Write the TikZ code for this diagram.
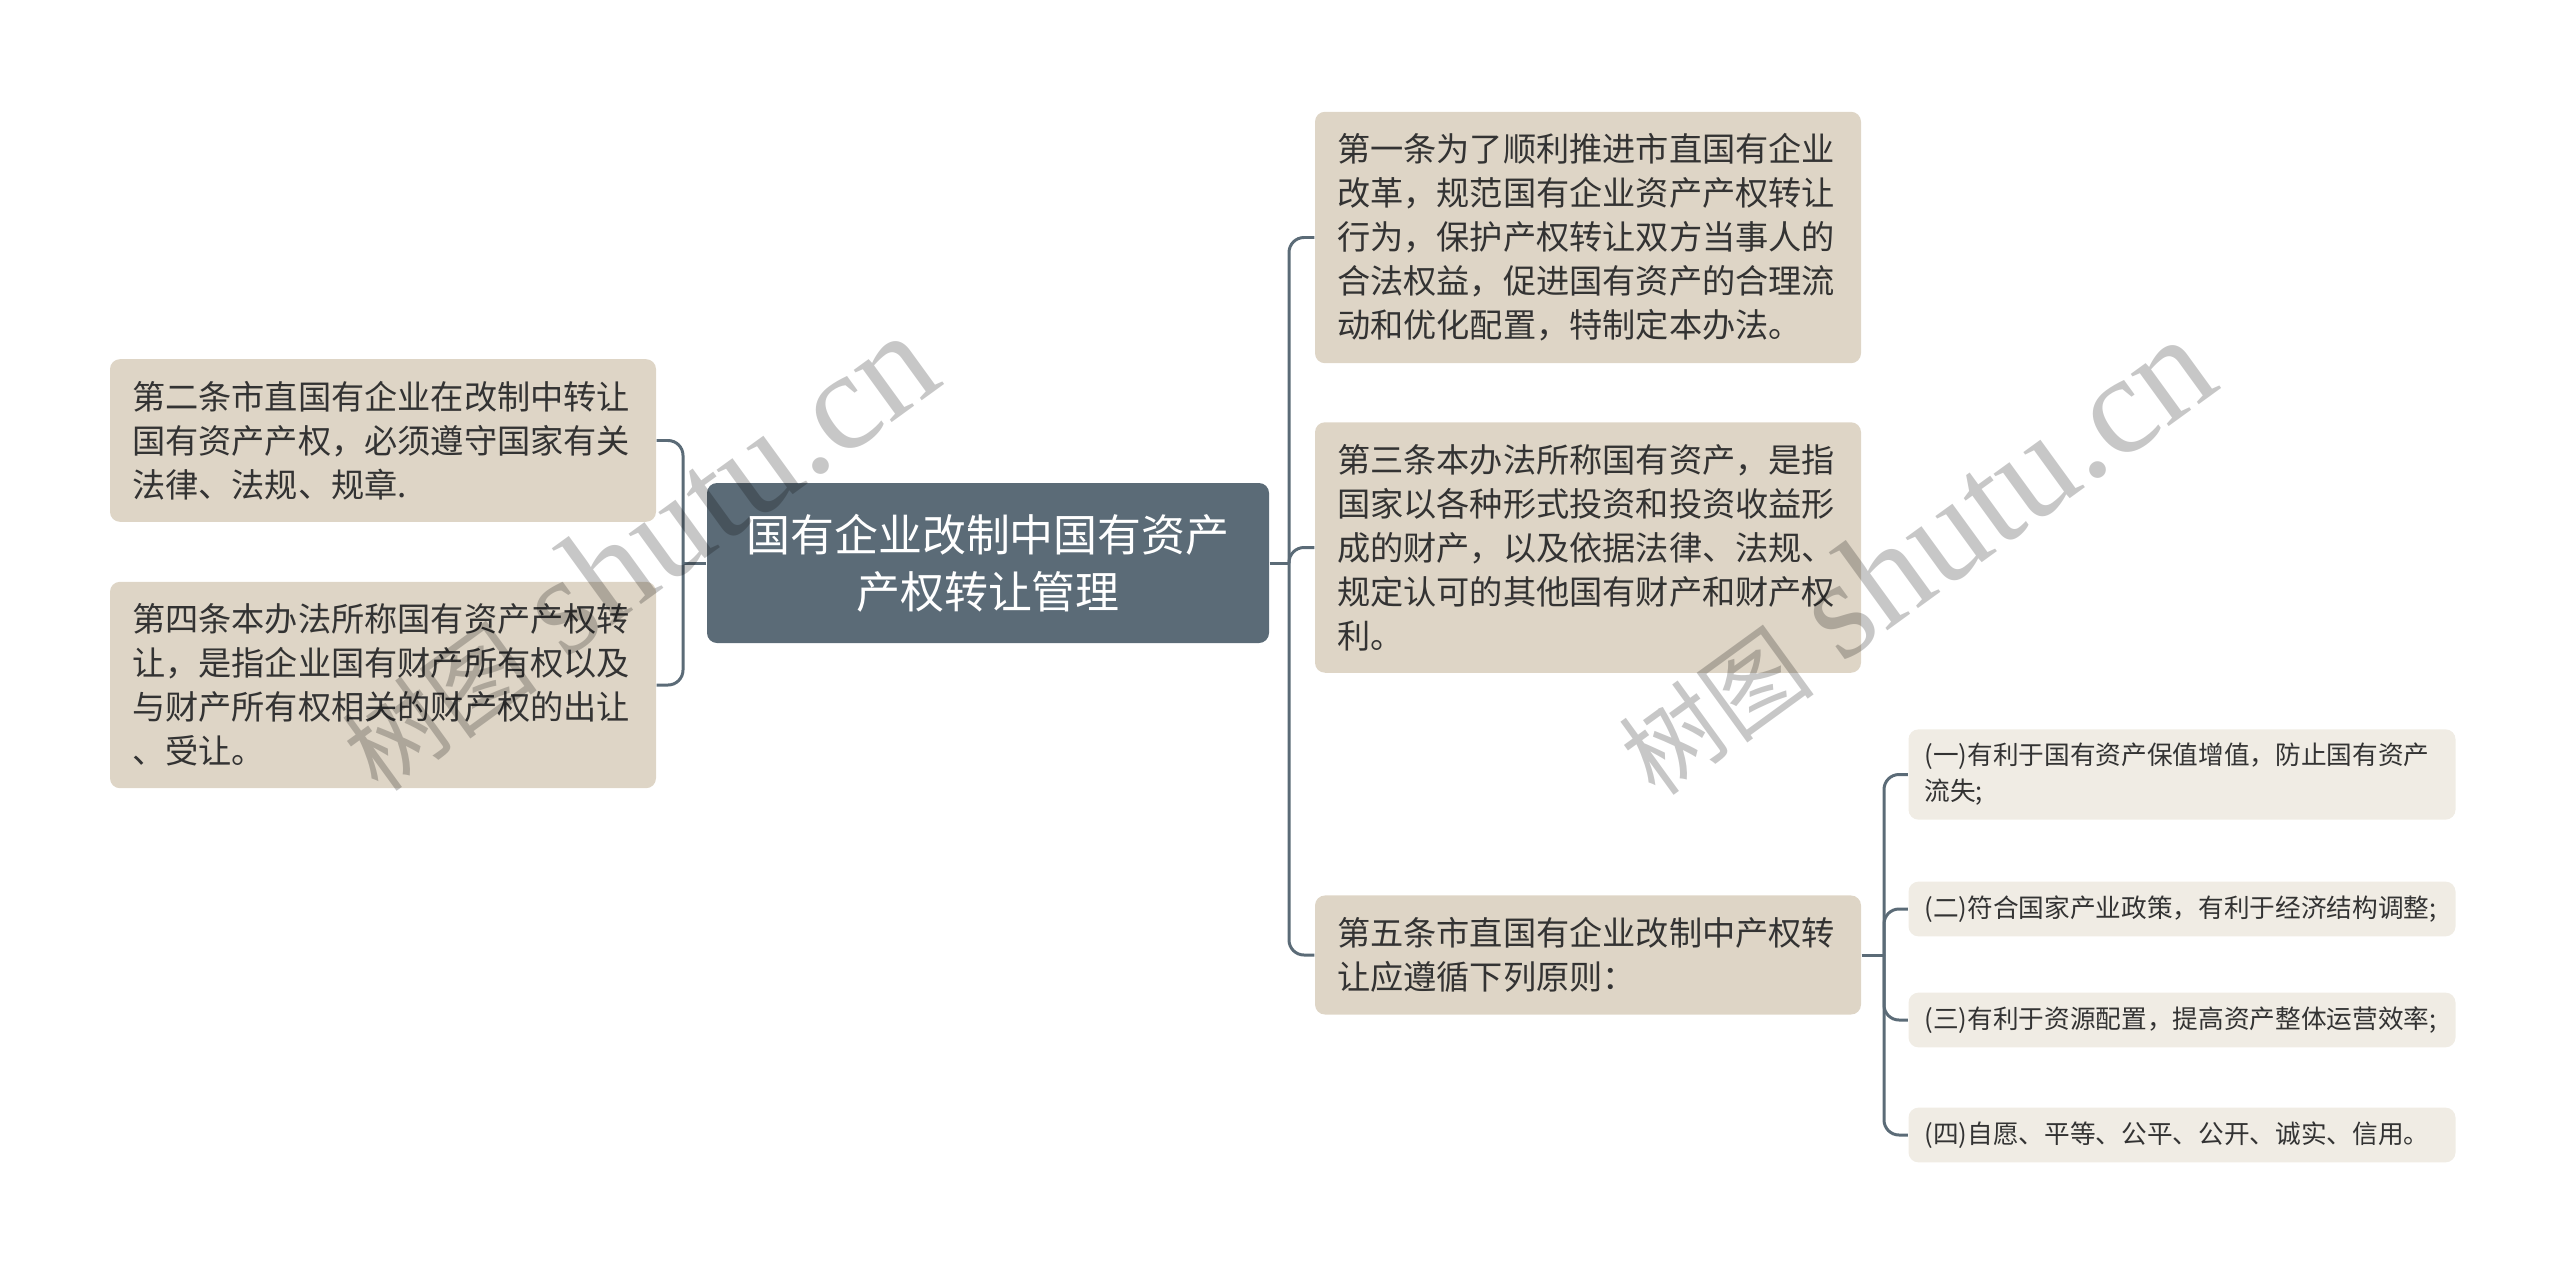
\documentclass[tikz,border=0pt]{standalone}
\usepackage{fontspec}
\setmainfont{Noto Sans CJK SC}
\newfontfamily\markfont{Liberation Serif}
\usepackage{tikz}

\definecolor{rootfill}{HTML}{5B6B77}
\definecolor{topicfill}{HTML}{DED5C6}
\definecolor{pointfill}{HTML}{F0ECE4}
\definecolor{textdark}{HTML}{333333}

\begin{document}
\begin{tikzpicture}[root/.style={rectangle,rounded corners=0.1cm,fill=rootfill,text=white,font=\fontsize{12.5pt}{16.2pt}\selectfont,align=center,minimum width=5.62cm,minimum height=1.6cm},
				topic/.style={rectangle,rounded corners=0.1cm,fill=topicfill,text=textdark,font=\fontsize{9.45pt}{12.5pt}\selectfont,align=left,text width=5.02cm,inner xsep=0.22cm,inner ysep=0.22cm},
				point/.style={rectangle,rounded corners=0.1cm,fill=pointfill,text=textdark,font=\fontsize{7.3pt}{10.2pt}\selectfont,align=left,text width=5.15cm,inner xsep=0.16cm,inner ysep=0.14cm},
				link/.style={draw=rootfill,line width=0.85pt,rounded corners=0.15cm},
				watermark/.style={text=black,text opacity=0.22,font=\fontsize{40pt}{40pt}\selectfont,rotate=36,anchor=base}]
	\useasboundingbox (0,0) rectangle (25.6,-12.73);
	\node[root] (R) at (9.88,-5.63) {国有企业改制中国有资产\\产权转让管理};
	\node[topic] (A2) at (3.83,-4.405) {第二条市直国有企业在改制中转让\\国有资产产权，必须遵守国家有关\\法律、法规、规章.};
	\node[topic] (A4) at (3.83,-6.85) {第四条本办法所称国有资产产权转\\让，是指企业国有财产所有权以及\\与财产所有权相关的财产权的出让\\、受让。};
	\node[topic] (A1) at (15.88,-2.375) {第一条为了顺利推进市直国有企业\\改革，规范国有企业资产产权转让\\行为，保护产权转让双方当事人的\\合法权益，促进国有资产的合理流\\动和优化配置，特制定本办法。};
	\node[topic] (A3) at (15.88,-5.475) {第三条本办法所称国有资产，是指\\国家以各种形式投资和投资收益形\\成的财产，以及依据法律、法规、\\规定认可的其他国有财产和财产权\\利。};
	\node[topic] (A5) at (15.88,-9.55) {第五条市直国有企业改制中产权转\\让应遵循下列原则：};
	\node[point] (P1) at (21.82,-7.745) {(一)有利于国有资产保值增值，防止国有资产\\流失;};
	\node[point] (P2) at (21.82,-9.09) {(二)符合国家产业政策，有利于经济结构调整;};
	\node[point] (P3) at (21.82,-10.2) {(三)有利于资源配置，提高资产整体运营效率;};
	\node[point] (P4) at (21.82,-11.35) {(四)自愿、平等、公平、公开、诚实、信用。};
	\coordinate (JL) at (6.83,-5.63);
	\coordinate (JR) at (12.89,-5.63);
	\coordinate (J5) at (18.84,-9.55);
	\draw[link] (R.west) -- (JL);
	\draw[link] (JL) |- (A2.east);
	\draw[link] (JL) |- (A4.east);
	\draw[link] (R.east) -- (JR);
	\draw[link] (JR) |- (A1.west);
	\draw[link] (JR) |- (A3.west);
	\draw[link] (JR) |- (A5.west);
	\draw[link] (A5.east) -- (J5);
	\draw[link] (J5) |- (P1.west);
	\draw[link] (J5) |- (P2.west);
	\draw[link] (J5) |- (P3.west);
	\draw[link] (J5) |- (P4.west);
	\node[watermark] (W1) at (6.63,-5.89) {{\fontsize{28pt}{28pt}\selectfont 树图} {\markfont shutu.cn}};
	\node[watermark] (W2) at (19.40,-5.93) {{\fontsize{28pt}{28pt}\selectfont 树图} {\markfont shutu.cn}};
\end{tikzpicture}
\end{document}
